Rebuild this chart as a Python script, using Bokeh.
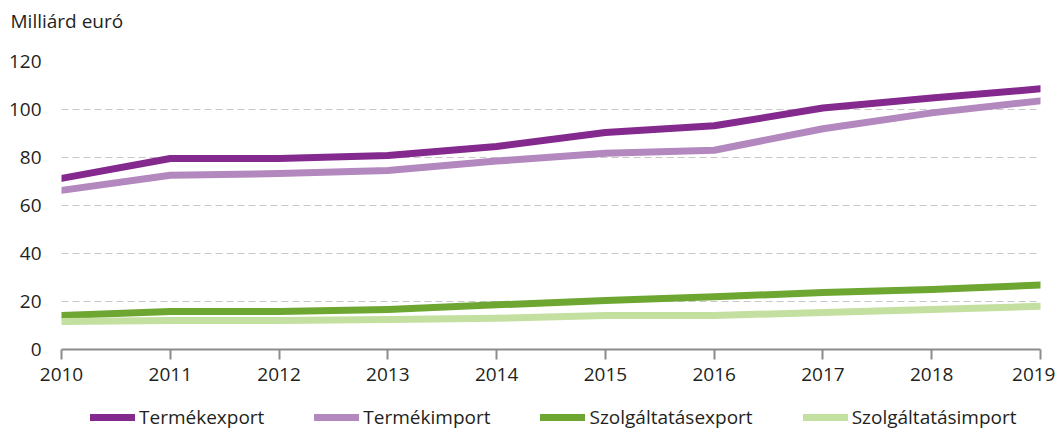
from bokeh.plotting import figure
from bokeh.models import Legend, LegendItem, FixedTicker, Range1d, Label
from bokeh.layouts import column
from bokeh.embed import file_html
from bokeh.resources import INLINE

years = [2010, 2011, 2012, 2013, 2014, 2015, 2016, 2017, 2018, 2019]
termekexport = [71.3, 79.6, 79.6, 80.8, 84.6, 90.4, 93.2, 100.6, 104.8, 108.6]
termekimport = [66.3, 72.6, 73.3, 74.6, 78.5, 81.8, 83.0, 92.0, 98.6, 103.6]
szolg_export = [14.2, 15.8, 15.8, 16.7, 18.6, 20.4, 22.0, 23.7, 25.0, 26.9]
szolg_import = [11.7, 12.1, 12.1, 12.5, 13.0, 14.2, 14.2, 15.4, 16.7, 18.0]
names = ["Termékexport", "Termékimport", "Szolgáltatásexport", "Szolgáltatásimport"]
colors = ["#84298E", "#B388BE", "#6EA632", "#C4E0A0"]
y_ticks = [0, 20, 40, 60, 80, 100, 120]
unit_label = "Milliárd euró"

FONT = "Open Sans"
TXT = "#231F20"
W = 1055
series = [termekexport, termekimport, szolg_export, szolg_import]

# --- title strip ---
pt = figure(width=W, height=40, output_backend="svg", toolbar_location=None,
            x_axis_type=None, y_axis_type=None, min_border=0,
            x_range=Range1d(0, 1), y_range=Range1d(0, 1))
pt.outline_line_color = None
pt.frame_align = False
pt.add_layout(Label(x=10, y=20, x_units="screen", y_units="screen", text=unit_label,
                    text_font=FONT, text_font_size="19px", text_color=TXT,
                    text_baseline="middle", text_align="left"))

# --- main chart ---
p = figure(width=W, height=358, output_backend="svg", toolbar_location=None,
           x_range=Range1d(2010, 2019), y_range=Range1d(0, 120),
           min_border_left=61, min_border_right=15, min_border_top=21, min_border_bottom=49)
p.outline_line_color = None
p.frame_align = False

for vals, c in zip(series, colors):
    p.line(years, vals, line_color=c, line_width=7, line_cap="round", line_join="round")

p.xaxis.ticker = FixedTicker(ticks=years)
p.yaxis.ticker = FixedTicker(ticks=y_ticks)
p.xgrid.grid_line_color = None
p.ygrid.grid_line_color = "#C8C8C8"
p.ygrid.grid_line_dash = "7 4"
p.ygrid.grid_line_width = 1

p.yaxis.axis_line_color = None
p.yaxis.major_tick_line_color = None
p.yaxis.minor_tick_line_color = None
p.yaxis.major_label_standoff = 14
p.yaxis.major_label_text_font = FONT
p.yaxis.major_label_text_font_size = "19px"
p.yaxis.major_label_text_color = TXT

p.xaxis.axis_line_color = "#8C8C8C"
p.xaxis.axis_line_width = 2
p.xaxis.major_tick_line_color = "#8C8C8C"
p.xaxis.major_tick_line_width = 2
p.xaxis.major_tick_out = 10
p.xaxis.major_tick_in = 0
p.xaxis.minor_tick_line_color = None
p.xaxis.major_label_standoff = 8
p.xaxis.major_label_text_font = FONT
p.xaxis.major_label_text_font_size = "19px"
p.xaxis.major_label_text_color = TXT

# --- legend strip ---
pl = figure(width=W, height=30, output_backend="svg", toolbar_location=None,
            x_axis_type=None, y_axis_type=None, min_border=0,
            x_range=Range1d(2010, 2019), y_range=Range1d(1000, 1001))
pl.outline_line_color = None
pl.frame_align = False
lrs = []
for vals, c in zip(series, colors):
    lrs.append(pl.line(years, vals, line_color=c, line_width=7, line_cap="round"))
items = [LegendItem(label=n, renderers=[r]) for n, r in zip(names, lrs)]
legend = Legend(items=items, orientation="horizontal", location=(90, -2),
                glyph_width=45, glyph_height=20, label_standoff=4, spacing=50,
                label_text_font=FONT, label_text_font_size="19px", label_text_color=TXT,
                border_line_color=None, background_fill_alpha=0, margin=0, padding=0)
pl.add_layout(legend)

layout = column(pt, p, pl, spacing=0)
open("out.html", "w").write(file_html(layout, INLINE))
